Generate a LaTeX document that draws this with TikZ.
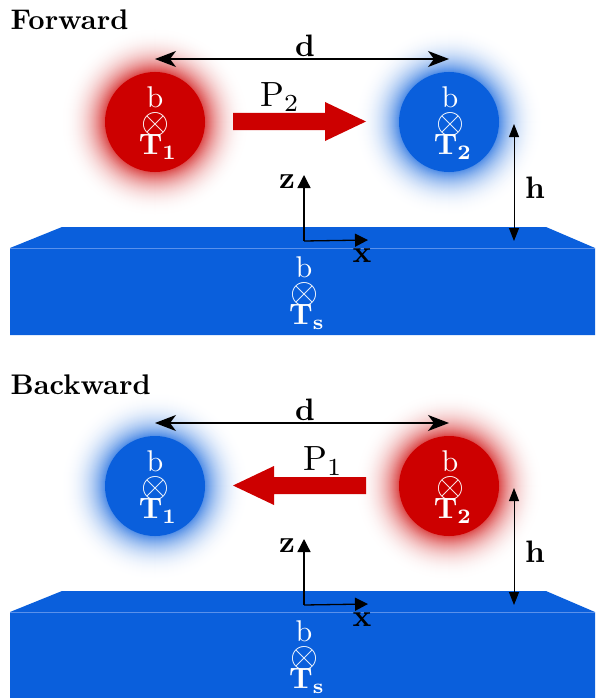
\documentclass[tikz,border=0pt]{standalone}
\usetikzlibrary{arrows.meta}
\definecolor{myblue}{RGB}{10,95,220}
\definecolor{myred}{RGB}{205,0,0}
\definecolor{lineblue}{RGB}{90,145,235}
\tikzset{
  x=1pt,y=-1pt,
  lbl/.style={inner sep=0pt,scale=3.1,font=\bfseries},
  wlbl/.style={inner sep=0pt,scale=3.0,text=white},
  olbl/.style={inner sep=0pt,scale=3.6,text=white},
  tlbl/.style={inner sep=0pt,scale=2.95,text=white},
  plbl/.style={inner sep=0pt,scale=3.5},
  ttl/.style={inner sep=0pt,scale=2.84,anchor=west,font=\bfseries},
  dim/.style={draw=black,line width=1.3pt,{Stealth[length=21pt,width=16pt,inset=6pt]}-{Stealth[length=21pt,width=16pt,inset=6pt]}},
  hdim/.style={draw=black,line width=0.9pt,{Triangle[length=13pt,width=10pt]}-{Triangle[length=13pt,width=10pt]}},
  axis/.style={draw=black,line width=1.3pt,-{Triangle[length=13pt,width=13pt]}},
  disc/.style={circle,minimum size=100pt,inner sep=0pt,outer sep=0pt},
  pw/.style={fill=myred,draw=none},
}
\newcommand{\glowdisc}[3]{% name, x, colour
  \foreach \r in {96,95,...,50}{
    \pgfmathsetmacro{\p}{72*((96-\r)/46)^2.5}
    \fill[#3!\p!white] (#2,122) circle[radius=\r];
  }
  \node[disc,fill=#3] (#1) at (#2,122) {};
}
\newcommand{\triple}[4]{% name, x, y of otimes, subscript
  \node[wlbl] (#1b) at (#2,#3-25) {b};
  \node[olbl] (#1o) at (#2,#3+2) {$\otimes$};
  \node[tlbl] (#1t) at (#2+3,#3+25) {$\mathbf{T_{#4}}$};
}
\newcommand{\plate}[1]{%
  \fill[myblue] (10,248) -- (62,227) -- (546,227) -- (595,248) -- (595,335) -- (10,335) -- cycle;
  \draw[lineblue,line width=0.7pt] (10,248) -- (595,248);
  \coordinate (#1orig) at (304,241);
  \coordinate (#1xe) at (368,240);
  \coordinate (#1ze) at (304,175);
  \draw[axis] (#1orig) -- (#1ze);
  \draw[axis] (#1orig) -- (#1xe);
  \node[lbl] (#1z) at (287,182) {z};
  \node[lbl] (#1x) at (362,256) {x};
  \coordinate (#1hu) at (514,124);
  \coordinate (#1hd) at (514,241);
  \draw[hdim] (#1hu) -- (#1hd);
  \node[lbl] (#1h) at (535,188) {h};
  \coordinate (#1dl) at (155,59);
  \coordinate (#1dr) at (449,59);
  \draw[dim] (#1dl) -- (#1dr);
  \node[lbl] (#1d) at (305,46) {d};
  \triple{#1s}{304}{292}{s}
}
\begin{document}
\begin{tikzpicture}
\useasboundingbox (0,0) rectangle (595,698);
% Forward
\glowdisc{fa}{155}{myred}
\glowdisc{fc}{449}{myblue}
\plate{f}
\triple{fa}{155}{122}{1}
\triple{fc}{450}{122}{2}
\fill[pw] (233,113) -- (325,113) -- (325,102) -- (366,121.5) -- (325,141) -- (325,130) -- (233,130) -- cycle;
\node[plbl] (fp) at (280,97) {$\mathrm{P}_2$};
\node[ttl] (ft) at (10,20) {Forward};
% Backward
\begin{scope}[shift={(0,364)}]
\glowdisc{ba}{155}{myblue}
\glowdisc{bc}{449}{myred}
\plate{b}
\triple{ba}{155}{122}{1}
\triple{bc}{450}{122}{2}
\fill[pw] (366,113) -- (274,113) -- (274,102) -- (233,121.5) -- (274,141) -- (274,130) -- (366,130) -- cycle;
\node[plbl] (bp) at (323,97) {$\mathrm{P}_1$};
\node[ttl] (bt) at (10,21) {Backward};
\end{scope}
\end{tikzpicture}
\end{document}
